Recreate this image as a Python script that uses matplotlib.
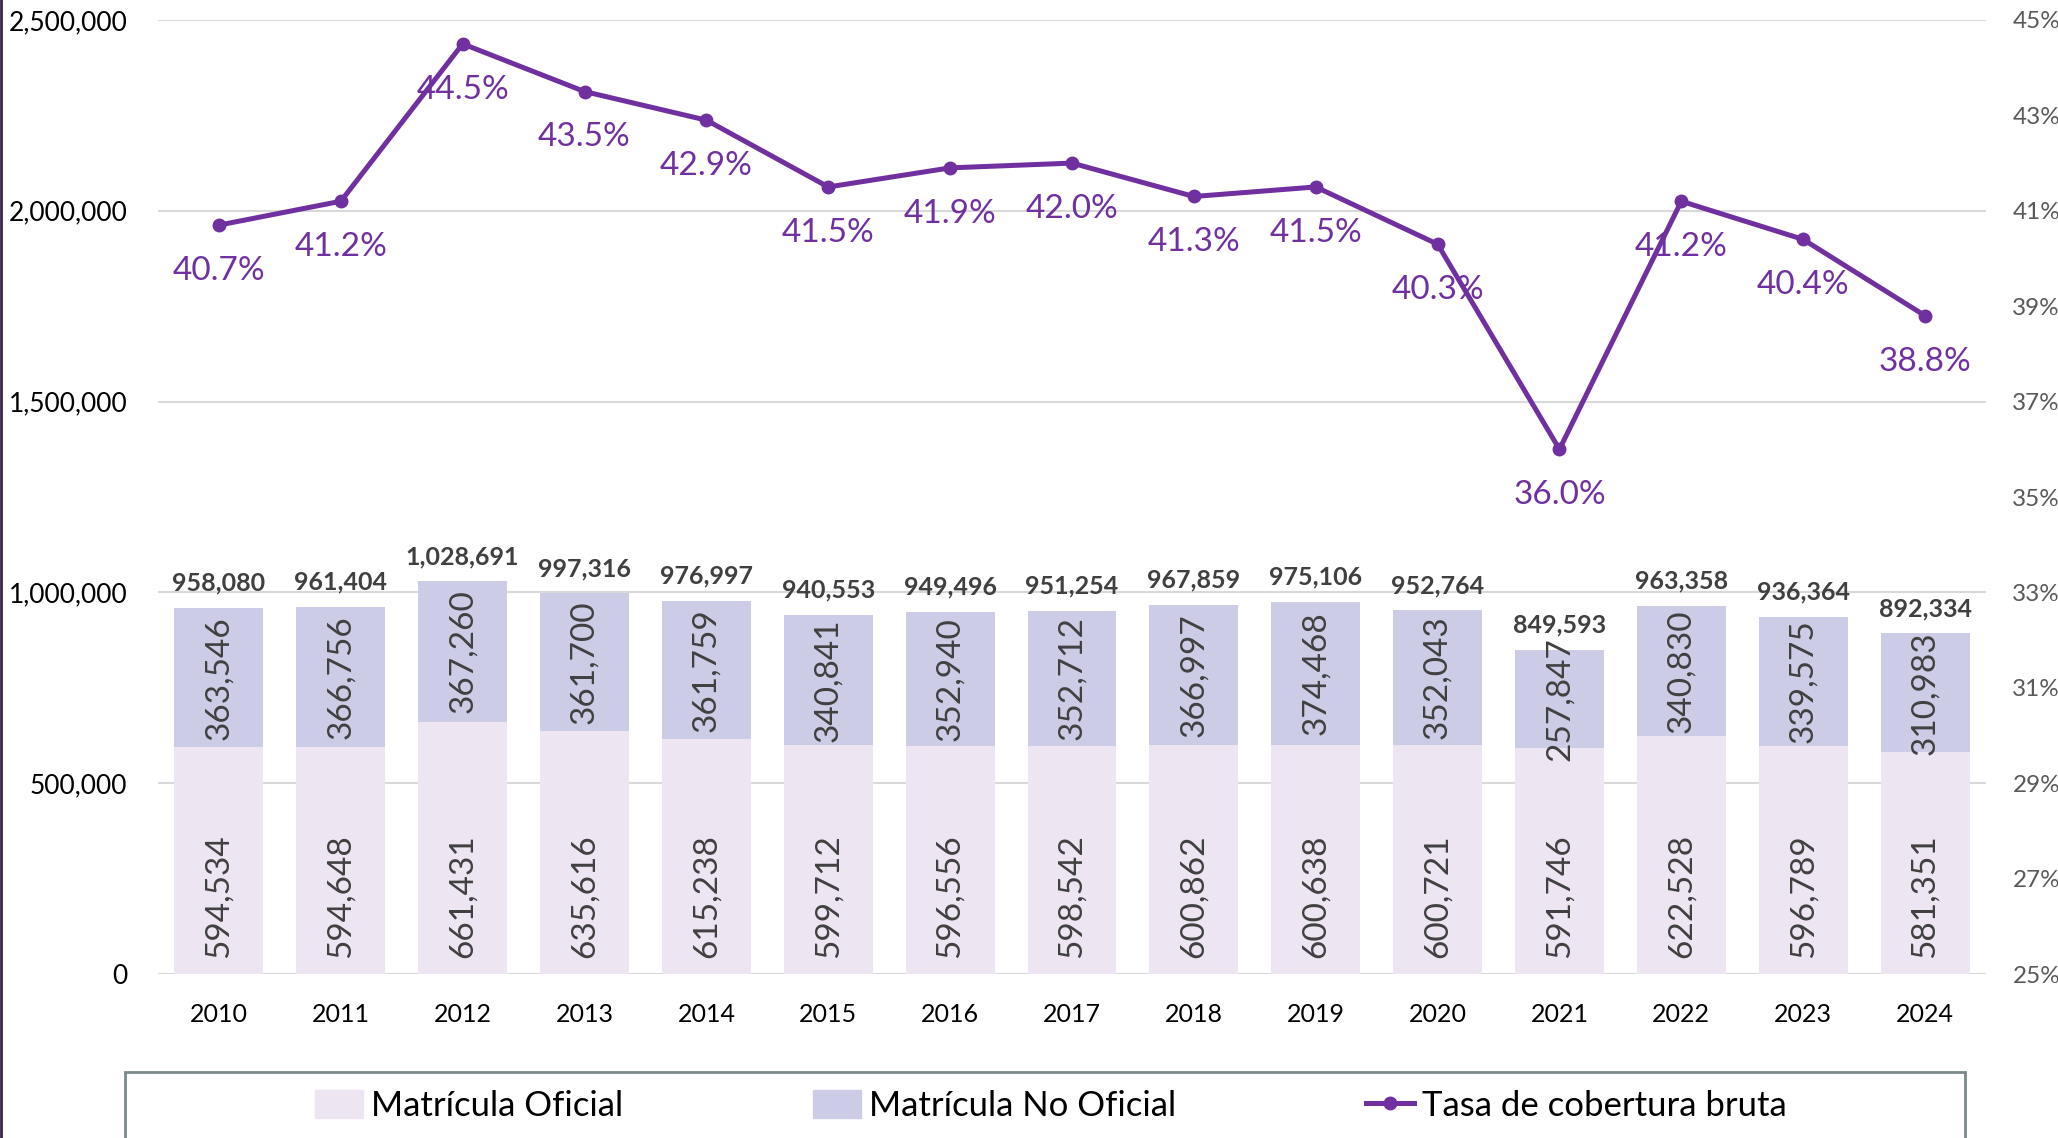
import matplotlib
matplotlib.use("Agg")
import matplotlib.pyplot as plt
from matplotlib.patches import Patch, Rectangle
from matplotlib.lines import Line2D
from matplotlib.ticker import FuncFormatter, MultipleLocator

plt.rcParams['font.family'] = ['Lato', 'DejaVu Sans']

years = ['2010', '2011', '2012', '2013', '2014', '2015', '2016', '2017',
         '2018', '2019', '2020', '2021', '2022', '2023', '2024']
oficial = [594534, 594648, 661431, 635616, 615238, 599712, 596556, 598542,
           600862, 600638, 600721, 591746, 622528, 596789, 581351]
no_oficial = [363546, 366756, 367260, 361700, 361759, 340841, 352940, 352712,
              366997, 374468, 352043, 257847, 340830, 339575, 310983]
totales = [958080, 961404, 1028691, 997316, 976997, 940553, 949496, 951254,
           967859, 975106, 952764, 849593, 963358, 936364, 892334]
tasa = [40.7, 41.2, 44.5, 43.5, 42.9, 41.5, 41.9, 42.0, 41.3, 41.5,
        40.3, 36.0, 41.2, 40.4, 38.8]
tasa_ticks = [25, 27, 29, 31, 33, 35, 37, 39, 41, 43, 45]

c_of = '#EDE5F2'
c_nof = '#CCCCE6'
c_line = '#7030A0'
c_lab = '#404040'

W, H = 2058, 1138
fig = plt.figure(figsize=(W / 100, H / 100), dpi=100)
ax = fig.add_axes([158 / W, 1 - 974 / H, (1986 - 158) / W, (974 - 20) / H])
ax2 = ax.twinx()

x = list(range(len(years)))
bw = 0.73
ax.bar(x, oficial, bw, color=c_of, zorder=2, label='Matrícula Oficial')
ax.bar(x, no_oficial, bw, bottom=oficial, color=c_nof, zorder=2,
       label='Matrícula No Oficial')

ax.set_xlim(-0.5, len(years) - 0.5)
ax.set_ylim(0, 2500000)
ax.yaxis.set_major_locator(MultipleLocator(500000))
ax.yaxis.set_major_formatter(FuncFormatter(lambda v, p: f'{int(v):,}'))
ax.grid(axis='y', color='#D9D9D9', lw=1.5, zorder=0)
ax.set_axisbelow(True)
ax.set_xticks(x)
ax.set_xticklabels(years)
ax.tick_params(axis='x', length=0, pad=21, labelsize=18, labelcolor='black')
ax.tick_params(axis='y', length=0, pad=22, labelsize=19, labelcolor='black')
for s in ax.spines.values():
    s.set_visible(False)
for s in ax2.spines.values():
    s.set_visible(False)

# bar labels
for i in x:
    ax.annotate(f'{totales[i]:,}', (i, oficial[i] + no_oficial[i]),
                xytext=(0, 18), textcoords='offset points', ha='center',
                va='center', fontsize=18, fontweight='bold', color=c_lab)
    ax.annotate(f'{oficial[i]:,}', (i, 0), xytext=(0, 11.5),
                textcoords='offset points', ha='center', va='bottom',
                rotation=90, fontsize=24, color=c_lab)
    ax.text(i, oficial[i] + no_oficial[i] / 2, f'{no_oficial[i]:,}',
            ha='center', va='center', rotation=90, fontsize=24, color=c_lab)

ax2.plot(x, tasa, color=c_line, lw=3.6, marker='o', markersize=9,
         zorder=5, label='Tasa de cobertura bruta')
ax2.set_ylim(25, 45)
ax2.set_yticks(tasa_ticks)
ax2.yaxis.set_major_formatter(FuncFormatter(lambda v, p: f'{v:.0f}%'))
ax2.tick_params(axis='y', length=0, pad=19, labelsize=17.5, labelcolor='#595959')
for i in x:
    ax2.annotate(f'{tasa[i]:.1f}%', (i, tasa[i]), xytext=(0, -33),
                 textcoords='offset points', ha='center', va='center',
                 fontsize=24, color=c_line)

# legend
handles = [Patch(color=c_of), Patch(color=c_nof),
           Line2D([0], [0], color=c_line, lw=3.6, marker='o', markersize=9)]
labels = ['Matrícula Oficial', 'Matrícula No Oficial', 'Tasa de cobertura bruta']
fig.legend(handles, labels, loc='center', bbox_to_anchor=(1051 / W, 1 - 1106 / H),
           ncol=3, frameon=False, fontsize=25, handlelength=1.4,
           handleheight=0.85, handletextpad=0.23, columnspacing=5.45)
fig.add_artist(Rectangle((125 / W, -0.01), (1965 - 125) / W, 0.01 + 1 - 1072 / H,
                         transform=fig.transFigure, fill=False,
                         edgecolor='#7B8A8B', lw=2))
fig.add_artist(Line2D([0.0007, 0.0007], [0, 1], transform=fig.transFigure,
                      color='#3B2348', lw=2))

fig.savefig('out.png', dpi=100)
